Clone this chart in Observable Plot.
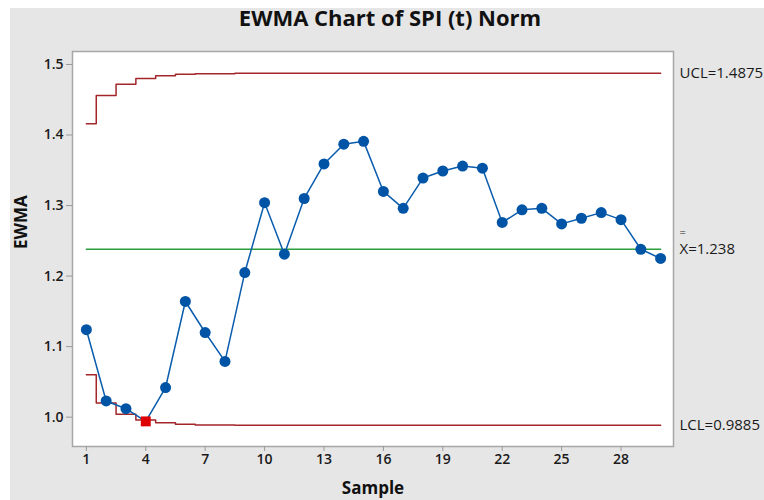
<!DOCTYPE html>
<html>
<head>
<meta charset="utf-8">
<script src="https://cdn.jsdelivr.net/npm/d3@7"></script>
<script src="https://cdn.jsdelivr.net/npm/@observablehq/plot@0.6"></script>
<style>
  body { margin: 0; background: #ffffff; }
  #chart { position: absolute; left: 10px; top: 8px; }
</style>
</head>
<body>
<div id="chart"></div>
<script>
const title = "EWMA Chart of SPI (t) Norm";
const xLabel = "Sample";
const yLabel = "EWMA";
const samples = d3.range(1, 31);
const ewma = [1.124, 1.023, 1.012, 0.994, 1.042, 1.164, 1.120, 1.079, 1.205, 1.304,
              1.231, 1.310, 1.359, 1.387, 1.391, 1.320, 1.296, 1.339, 1.349, 1.356,
              1.353, 1.276, 1.294, 1.296, 1.274, 1.282, 1.290, 1.280, 1.238, 1.225];
const ucl = [1.416, 1.456, 1.472, 1.480, 1.484, 1.486, 1.487, 1.487, 1.4875, 1.4875,
             1.4875, 1.4875, 1.4875, 1.4875, 1.4875, 1.4875, 1.4875, 1.4875, 1.4875, 1.4875,
             1.4875, 1.4875, 1.4875, 1.4875, 1.4875, 1.4875, 1.4875, 1.4875, 1.4875, 1.4875];
const lcl = [1.060, 1.020, 1.004, 0.996, 0.992, 0.990, 0.989, 0.989, 0.9885, 0.9885,
             0.9885, 0.9885, 0.9885, 0.9885, 0.9885, 0.9885, 0.9885, 0.9885, 0.9885, 0.9885,
             0.9885, 0.9885, 0.9885, 0.9885, 0.9885, 0.9885, 0.9885, 0.9885, 0.9885, 0.9885];
const center = 1.238;
const uclValue = 1.4875;
const lclValue = 0.9885;
const outOfControl = [4];
const xTicks = [1, 4, 7, 10, 13, 16, 19, 22, 25, 28];
const yTicks = [1.0, 1.1, 1.2, 1.3, 1.4, 1.5];

const rows = samples.map((s, i) => ({sample: s, ewma: ewma[i], ucl: ucl[i], lcl: lcl[i], out: outOfControl.includes(s)}));
const inRows = rows.filter(d => !d.out);
const outRows = rows.filter(d => d.out);
const xMax = 30.65;

const chart = Plot.plot({
  width: 754,
  height: 492,
  marginLeft: 62,
  marginRight: 91,
  marginTop: 43,
  marginBottom: 54,
  style: {background: "#e6e6e6", fontFamily: "'Open Sans', sans-serif", color: "#1a1a1a", overflow: "visible"},
  x: {domain: [0.3, xMax]},
  y: {domain: [0.9584, 1.5184]},
  marks: [
    Plot.frame({fill: "white", stroke: "#a6a6a6", strokeWidth: 1.5}),
    Plot.axisX({ticks: xTicks, tickSize: 5, tickPadding: 3, fontSize: 14, fontWeight: 600, label: null, stroke: "#999"}),
    Plot.axisY({ticks: yTicks, tickSize: 6, tickPadding: 3, fontSize: 14, fontWeight: 600, label: null, tickFormat: d => d.toFixed(1), stroke: "#999"}),
    Plot.line(rows, {x: "sample", y: "ucl", curve: "step", stroke: "#a3262a", strokeWidth: 1.5}),
    Plot.line(rows, {x: "sample", y: "lcl", curve: "step", stroke: "#a3262a", strokeWidth: 1.5}),
    Plot.line(rows, {x: "sample", y: () => center, stroke: "#2a9d3c", strokeWidth: 1.5}),
    Plot.line(rows, {x: "sample", y: "ewma", stroke: "#0a5cad", strokeWidth: 1.5}),
    Plot.dot(inRows, {x: "sample", y: "ewma", r: 5.5, fill: "#0054a6"}),
    Plot.dot(outRows, {x: "sample", y: "ewma", r: 5.6, symbol: "square", fill: "#dd0000"}),
    Plot.text([`UCL=${uclValue}`], {x: xMax, y: uclValue, dx: 6, textAnchor: "start", fontSize: 15, fill: "#1a1a1a"}),
    Plot.text([`LCL=${lclValue}`], {x: xMax, y: lclValue, dx: 6, textAnchor: "start", fontSize: 15, fill: "#1a1a1a"}),
    Plot.text([`X=${center}`], {x: xMax, y: center, dx: 6, textAnchor: "start", fontSize: 15, fill: "#1a1a1a"}),
    Plot.text(["="], {x: xMax, y: center, dx: 6, dy: -17, textAnchor: "start", fontSize: 11, fill: "#1a1a1a"}),
    Plot.text([title], {frameAnchor: "top", dx: 17, dy: -41, fontSize: 22, fontWeight: "bold", fill: "#111"}),
    Plot.text([xLabel], {frameAnchor: "bottom", dy: 47, fontSize: 17, fontWeight: "bold", fill: "#111"}),
    Plot.text([yLabel], {frameAnchor: "left", dx: -51, rotate: -90, fontSize: 17, fontWeight: "bold", fill: "#111"})
  ]
});
document.getElementById("chart").appendChild(chart);
</script>
</body>
</html>
